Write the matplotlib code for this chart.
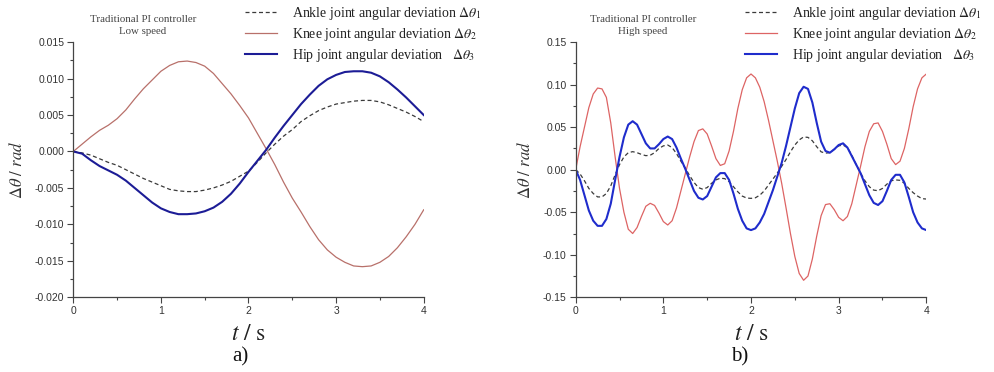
import numpy as np
import matplotlib
matplotlib.use("Agg")
import matplotlib.pyplot as plt
from matplotlib.ticker import MultipleLocator, FormatStrFormatter

plt.rcParams['mathtext.fontset'] = 'stix'
plt.rcParams['font.family'] = ['Liberation Sans', 'DejaVu Sans']

# ---------------- data: low speed (step 0.1 s) ----------------
t_low = np.round(np.arange(0, 4.0001, 0.1), 2)
knee_low = [0.0, 0.0010, 0.0020, 0.0029, 0.0036, 0.0045, 0.0057, 0.0072, 0.0086, 0.0098,
            0.0110, 0.0118, 0.0123, 0.0124, 0.0122, 0.0117, 0.0107, 0.0093, 0.0079, 0.0063,
            0.0046, 0.0025, 0.0004, -0.0018, -0.0042, -0.0064, -0.0083, -0.0103, -0.0121, -0.0135,
            -0.0145, -0.0152, -0.0157, -0.0158, -0.0157, -0.0152, -0.0144, -0.0132, -0.0117, -0.0100,
            -0.0080]
hip_low = [0.0, -0.0003, -0.0012, -0.0020, -0.0026, -0.0032, -0.0040, -0.0050, -0.0060, -0.0070,
           -0.0078, -0.0083, -0.0086, -0.0086, -0.0085, -0.0082, -0.0077, -0.0069, -0.0058, -0.0044,
           -0.0028, -0.0013, 0.0002, 0.0019, 0.0035, 0.0050, 0.0065, 0.0078, 0.0090, 0.0099,
           0.0105, 0.0109, 0.0110, 0.0110, 0.0108, 0.0103, 0.0095, 0.0085, 0.0074, 0.0062,
           0.0050]
ankle_low = [0.0, -0.0002, -0.0005, -0.0010, -0.0015, -0.0019, -0.0025, -0.0031, -0.0037, -0.0042,
             -0.0047, -0.0052, -0.0054, -0.0055, -0.0055, -0.0053, -0.0050, -0.0046, -0.0041, -0.0034,
             -0.0027, -0.0015, -0.0002, 0.0010, 0.0021, 0.0030, 0.0041, 0.0049, 0.0056, 0.0061,
             0.0065, 0.0067, 0.0069, 0.0070, 0.0070, 0.0068, 0.0064, 0.0059, 0.0054, 0.0048,
             0.0041]

# ---------------- data: high speed (step 0.05 s) ----------------
t_high = np.round(np.arange(0, 4.0001, 0.05), 3)
knee_high = [0.0, 0.027, 0.050, 0.073, 0.089, 0.096, 0.095, 0.085, 0.055, 0.015,
             -0.022, -0.050, -0.070, -0.075, -0.068, -0.055, -0.043, -0.0395, -0.042, -0.051,
             -0.061, -0.065, -0.060, -0.045, -0.025, -0.005, 0.015, 0.033, 0.046, 0.048,
             0.042, 0.028, 0.013, 0.005, 0.007, 0.022, 0.045, 0.072, 0.094, 0.108,
             0.1125, 0.108, 0.097, 0.080, 0.058, 0.034, 0.010, -0.016, -0.045, -0.075,
             -0.102, -0.122, -0.130, -0.125, -0.105, -0.078, -0.054, -0.041, -0.040, -0.047,
             -0.056, -0.060, -0.055, -0.040, -0.018, 0.004, 0.027, 0.045, 0.054, 0.055,
             0.045, 0.030, 0.013, 0.006, 0.010, 0.025, 0.048, 0.074, 0.095, 0.108,
             0.1125]
hip_high = [0.0, -0.012, -0.030, -0.048, -0.060, -0.066, -0.066, -0.058, -0.040, -0.012,
            0.015, 0.038, 0.053, 0.057, 0.053, 0.042, 0.031, 0.025, 0.025, 0.030,
            0.036, 0.039, 0.036, 0.026, 0.013, 0.001, -0.012, -0.025, -0.033, -0.035,
            -0.031, -0.020, -0.009, -0.004, -0.004, -0.012, -0.028, -0.046, -0.060, -0.069,
            -0.071, -0.069, -0.062, -0.052, -0.038, -0.024, -0.008, 0.008, 0.028, 0.050,
            0.072, 0.090, 0.0975, 0.095, 0.079, 0.055, 0.033, 0.022, 0.020, 0.024,
            0.029, 0.031, 0.026, 0.016, 0.006, -0.004, -0.017, -0.030, -0.039, -0.0415,
            -0.037, -0.025, -0.012, -0.006, -0.006, -0.015, -0.032, -0.050, -0.062, -0.069,
            -0.071]
ankle_high = [0.0, -0.005, -0.013, -0.022, -0.028, -0.032, -0.032, -0.028, -0.019, -0.006,
              0.006, 0.015, 0.020, 0.0212, 0.020, 0.018, 0.0165, 0.017, 0.020, 0.025,
              0.028, 0.029, 0.026, 0.019, 0.010, 0.002, -0.007, -0.015, -0.021, -0.023,
              -0.021, -0.016, -0.012, -0.010, -0.0105, -0.014, -0.020, -0.026, -0.031, -0.0333,
              -0.0337, -0.033, -0.030, -0.025, -0.018, -0.011, -0.004, 0.004, 0.012, 0.021,
              0.029, 0.035, 0.0385, 0.038, 0.034, 0.027, 0.021, 0.0195, 0.020, 0.024,
              0.028, 0.029, 0.026, 0.017, 0.006, -0.004, -0.013, -0.020, -0.024, -0.0247,
              -0.022, -0.017, -0.013, -0.012, -0.0125, -0.016, -0.022, -0.027, -0.031, -0.034,
              -0.0345]

labels = ["Ankle joint angular deviation ",
          "Knee joint angular deviation ",
          "Hip joint angular deviation   "]
subs = [r"$\Delta\theta_1$", r"$\Delta\theta_2$", r"$\Delta\theta_3$"]

fig = plt.figure(figsize=(9.95, 3.72), dpi=100)
W, H = 995.0, 372.0

def make_axes(x0, x1):
    return fig.add_axes([x0 / W, 1 - 297.3 / H, (x1 - x0) / W, (297.3 - 42.1) / H])

axL = make_axes(73.3, 423.7)
axR = make_axes(575.7, 926.3)

panels = [
    (axL, t_low, ankle_low, knee_low, hip_low, (-0.020, 0.015), 0.005, '%.3f',
     '#b8706a', '#1c1c96', "Traditional PI controller\nLow speed", 143, 245, "a)"),
    (axR, t_high, ankle_high, knee_high, hip_high, (-0.15, 0.15), 0.05, '%.2f',
     '#dd6464', '#1f2ccc', "Traditional PI controller\nHigh speed", 643, 745, "b)"),
]

for (ax, t, an, kn, hp, ylim, ystep, fmt, kc, hc, note, notex, legx, tag) in panels:
    l1, = ax.plot(t, an, color='#3a3a3a', lw=0.9, ls=(0, (3.2, 2.2)))
    l2, = ax.plot(t, kn, color=kc, lw=0.9)
    l3, = ax.plot(t, hp, color=hc, lw=1.5)
    ax.set_xlim(0, 4)
    ax.set_ylim(*ylim)
    ax.xaxis.set_major_locator(MultipleLocator(1))
    ax.xaxis.set_minor_locator(MultipleLocator(0.5))
    ax.yaxis.set_major_locator(MultipleLocator(ystep))
    ax.yaxis.set_minor_locator(MultipleLocator(ystep / 2))
    ax.yaxis.set_major_formatter(FormatStrFormatter(fmt))
    ax.xaxis.set_major_formatter(FormatStrFormatter('%d'))
    for s in ('top', 'right'):
        ax.spines[s].set_visible(False)
    for s in ('left', 'bottom'):
        ax.spines[s].set_color('#444444')
        ax.spines[s].set_linewidth(0.9)
    ax.tick_params(which='major', direction='out', length=4, width=0.8, colors='#444444',
                   labelsize=7.5, labelcolor='#333333', pad=2.5)
    ax.tick_params(which='minor', direction='out', length=2.3, width=0.8, colors='#444444')
    ax.set_ylabel(r"$\Delta\theta\ /\ rad$", fontsize=12, color='#333333', labelpad=7)
    ax.set_xlabel(r"$t\ /\ \mathrm{s}$", fontsize=17, color='#222222', labelpad=5)
    fig.text(notex / W, 1 - 25.5 / H, note, ha='center', va='center', family='Liberation Serif',
             fontsize=7.8, color='#444444', linespacing=1.3)
    fig.text((notex + 97) / W, 1 - 357 / H, tag, ha='center', va='center',
             family='Liberation Serif', fontsize=15, color='#111111')
    leg = fig.legend([l1, l2, l3], [lab + s for lab, s in zip(labels, subs)],
                     loc='upper left', bbox_to_anchor=(legx / W, 1 - 5 / H),
                     frameon=False, prop={'family': 'Liberation Serif', 'size': 10},
                     handlelength=2.3, handletextpad=1.1, labelspacing=0.3,
                     borderpad=0, borderaxespad=0)
    for txt in leg.get_texts():
        txt.set_color('#222222')

fig.savefig("out.png", dpi=100)
